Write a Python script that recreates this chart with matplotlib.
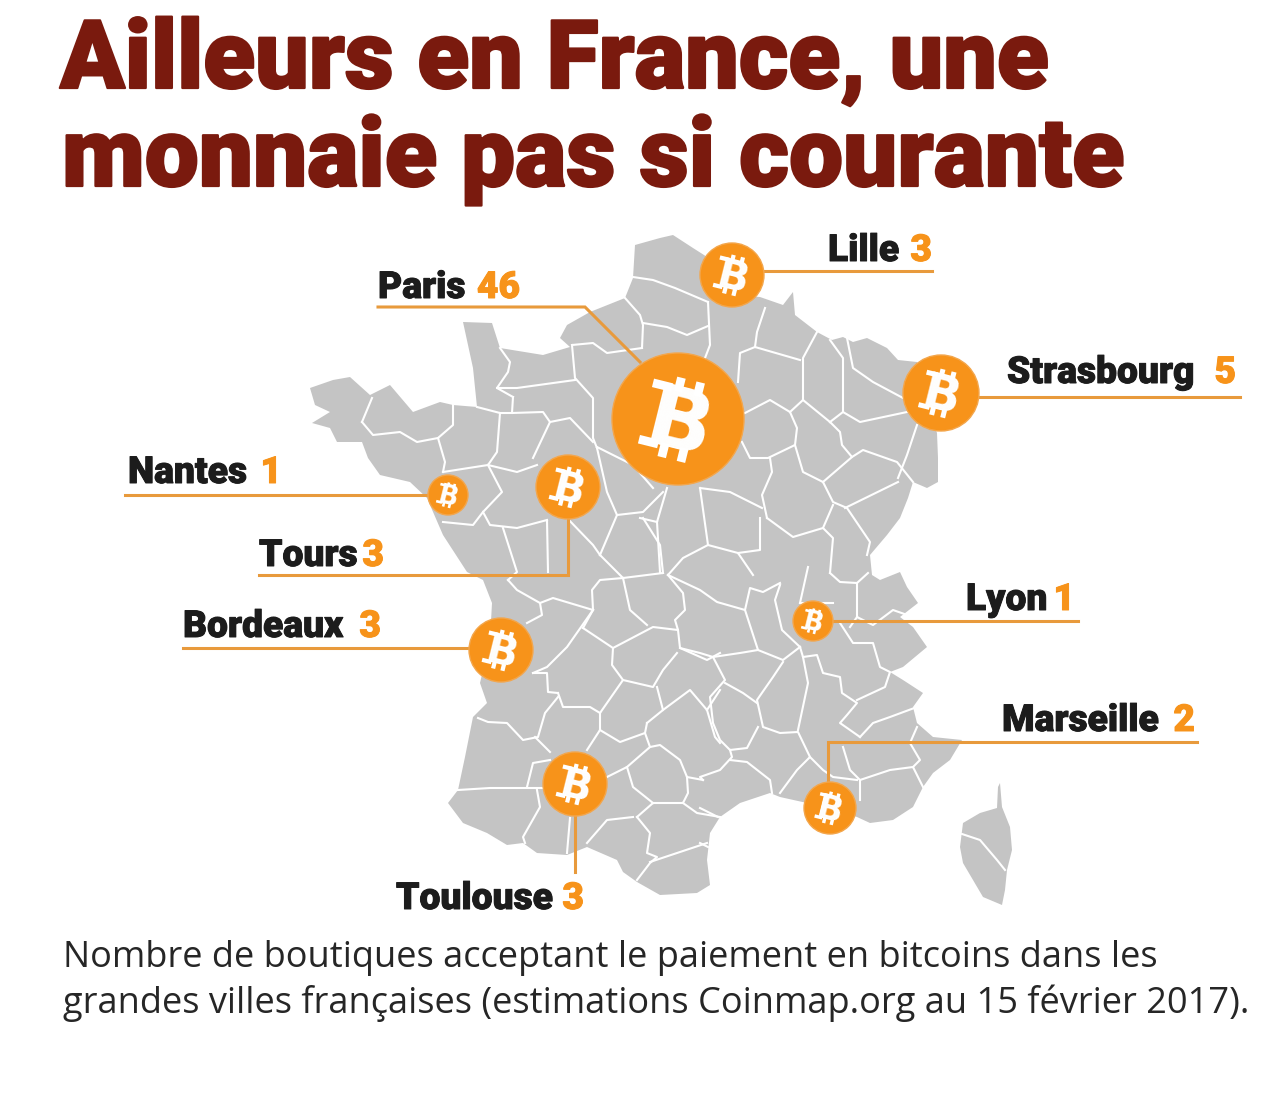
#!/usr/bin/env python3

import numpy as np
import matplotlib
matplotlib.use('Agg')
import matplotlib.pyplot as plt
import matplotlib.patheffects as pe
from matplotlib.patches import Circle, Polygon

plt.rcParams['font.family'] = ['Roboto', 'DejaVu Sans']

title_lines = ['Ailleurs en France, une', 'monnaie pas si courante']
caption_lines = ['Nombre de boutiques acceptant le paiement en bitcoins dans les',
                 'grandes villes françaises (estimations Coinmap.org au 15 février 2017).']

cities = ['Paris', 'Lille', 'Strasbourg', 'Nantes', 'Tours', 'Bordeaux', 'Lyon', 'Marseille', 'Toulouse']
shops = [46, 3, 5, 1, 3, 3, 1, 2, 3]

# where the cities sit on the map, in picture pixels
city_x = [678, 732, 941, 448, 568, 501, 813, 830, 575]
city_y = [419, 275, 393, 495, 487, 650, 621, 808, 784]

france = [(673, 235), (693, 248), (715, 262), (735, 295), (760, 297), (783, 305), (793, 292), (795, 315),
          (817, 332), (832, 340), (843, 337), (853, 342), (867, 338), (887, 348), (898, 360), (917, 362),
          (925, 400), (937, 433), (938, 458), (938, 482), (927, 488), (913, 482), (908, 498), (900, 518),
          (887, 535), (870, 555), (872, 575), (880, 580), (900, 572), (907, 587), (918, 603), (900, 617),
          (913, 627), (927, 647), (903, 667), (890, 672), (903, 680), (923, 693), (913, 707), (917, 723),
          (933, 737), (962, 740), (950, 760), (933, 773), (923, 787), (913, 807), (893, 820), (870, 823),
          (857, 817), (830, 808), (807, 803), (780, 797), (770, 793), (740, 803), (720, 817), (710, 833),
          (707, 860), (710, 885), (697, 893), (660, 895), (637, 882), (623, 872), (617, 860), (587, 847),
          (567, 855), (537, 853), (523, 843), (507, 845), (487, 833), (463, 823), (448, 803), (458, 790),
          (465, 757), (473, 717), (487, 703), (480, 683), (490, 640), (492, 603), (483, 580), (467, 572),
          (443, 535), (427, 498), (410, 482), (380, 475), (368, 458), (362, 442), (337, 442), (330, 428),
          (312, 423), (330, 412), (315, 405), (310, 388), (333, 380), (350, 377), (370, 395), (390, 385),
          (413, 412), (440, 402), (453, 405), (477, 407), (473, 368), (463, 322), (492, 323), (500, 348),
          (543, 355), (570, 347), (560, 338), (567, 325), (590, 312), (625, 298), (633, 278), (635, 245),
          (660, 238)]
corsica = [(1000, 783), (1002, 807), (1010, 827), (1012, 850), (1007, 870), (1005, 890), (1002, 905), (983, 897),
           (973, 880), (963, 863), (960, 847), (963, 823), (980, 813), (997, 808), (998, 787)]
borders = [
    [(625, 298), (640, 315), (643, 325), (642, 348)], [(633, 277), (653, 280), (675, 288), (708, 302)],
    [(643, 323), (667, 327), (687, 335), (708, 326)], [(572, 345), (593, 343), (607, 353), (642, 348)],
    [(572, 345), (575, 378), (593, 398), (593, 438), (597, 448)], [(500, 348), (510, 362), (508, 372), (497, 388), (513, 397)],
    [(497, 388), (517, 388), (575, 380)], [(513, 397), (512, 413), (543, 412), (550, 422), (570, 418), (593, 442)],
    [(477, 407), (500, 413), (512, 413)], [(453, 405), (453, 425), (438, 438), (445, 462), (443, 472)],
    [(362, 422), (373, 435), (400, 432), (417, 442), (438, 438)], [(362, 422), (372, 398)],
    [(500, 413), (497, 452), (488, 465), (443, 472)], [(488, 465), (517, 472), (537, 465)], [(550, 422), (533, 458)],
    [(488, 465), (502, 492), (483, 512), (490, 525), (517, 528), (547, 520)], [(443, 522), (473, 525), (483, 512)],
    [(503, 528), (517, 572), (508, 580)], [(547, 520), (548, 572)], [(597, 448), (607, 492), (617, 515), (600, 555)],
    [(597, 447), (633, 465), (653, 488)], [(617, 515), (643, 512), (663, 492)], [(643, 518), (660, 545), (663, 573)],
    [(600, 555), (617, 572), (623, 578)], [(567, 518), (593, 545), (600, 555)],
    [(708, 302), (710, 345), (705, 358)], [(765, 308), (757, 332), (755, 347)], [(755, 347), (740, 353), (738, 382)],
    [(755, 347), (800, 360)], [(817, 332), (803, 358), (803, 400), (790, 412)], [(803, 400), (830, 422)],
    [(830, 340), (843, 358), (843, 412)], [(830, 422), (843, 412), (860, 422), (907, 412)],
    [(847, 338), (853, 368), (873, 382), (903, 398)],
    [(745, 413), (770, 400), (790, 412), (797, 428), (795, 445), (768, 458), (750, 458), (742, 442)],
    [(795, 445), (803, 472), (823, 482)], [(830, 422), (840, 432), (842, 445), (852, 457), (823, 482)],
    [(852, 457), (863, 450), (897, 462), (913, 482)], [(917, 425), (907, 455), (898, 478)], [(898, 482), (845, 508)],
    [(823, 482), (833, 502), (847, 508), (870, 542), (867, 555)], [(770, 458), (772, 472), (762, 495), (767, 518)],
    [(833, 505), (823, 528), (833, 538), (830, 573)], [(767, 518), (793, 537), (823, 528)],
    [(700, 488), (730, 492), (762, 508)], [(700, 488), (708, 545), (683, 558), (668, 575)],
    [(708, 545), (738, 553), (753, 575)], [(760, 518), (760, 550), (738, 553)], [(667, 488), (657, 522), (660, 572)],
    [(640, 518), (657, 522)],
    [(508, 580), (517, 590), (540, 603), (542, 615), (527, 623)], [(540, 603), (553, 598), (593, 610)],
    [(593, 610), (592, 590), (600, 580), (623, 578), (663, 573)], [(593, 610), (567, 647), (547, 667), (533, 673)],
    [(533, 673), (547, 673), (548, 692), (558, 693)], [(558, 693), (563, 707), (590, 707), (600, 713)],
    [(558, 697), (545, 713), (538, 737), (523, 740), (507, 723), (488, 722), (478, 718)], [(535, 737), (550, 752)],
    [(550, 760), (533, 763), (527, 787)], [(458, 790), (490, 788), (542, 788)],
    [(537, 790), (540, 807), (523, 837), (525, 843)], [(570, 818), (567, 853)],
    [(583, 628), (613, 648), (612, 665), (623, 680), (600, 713), (600, 730), (587, 750)], [(583, 628), (593, 610)],
    [(623, 578), (630, 610), (647, 625)],
    [(613, 648), (653, 627), (678, 630), (675, 620), (685, 610), (683, 593), (668, 575)],
    [(678, 630), (680, 648), (707, 660), (720, 653)], [(623, 680), (653, 687), (663, 670), (677, 653)],
    [(657, 687), (663, 710), (647, 723)], [(663, 710), (690, 690), (707, 710), (715, 737), (720, 743)],
    [(707, 710), (720, 690)], [(600, 730), (620, 742), (645, 733), (647, 723)], [(645, 733), (650, 747)],
    [(607, 777), (627, 767), (650, 747), (660, 745), (680, 760), (687, 777), (703, 780)],
    [(627, 767), (633, 787), (653, 803)], [(687, 777), (688, 793), (683, 803), (653, 803), (637, 817)],
    [(683, 803), (697, 813), (720, 817)], [(633, 817), (607, 820), (587, 843)],
    [(637, 817), (650, 833), (647, 853), (657, 857), (650, 863), (637, 880)], [(650, 862), (707, 843)],
    [(668, 575), (700, 590), (717, 602), (745, 610), (750, 588), (763, 592), (780, 583)],
    [(745, 610), (758, 650), (740, 653), (713, 657), (700, 653), (680, 648)], [(808, 567), (800, 603)],
    [(780, 585), (775, 600), (782, 630), (800, 647)], [(758, 650), (783, 660), (800, 647)],
    [(800, 647), (803, 657), (808, 683), (798, 730)],
    [(803, 657), (817, 655), (823, 673), (840, 677), (842, 693), (857, 703), (847, 715), (840, 723), (860, 737)],
    [(840, 623), (853, 643), (873, 643), (880, 667), (890, 672), (885, 687), (857, 700)],
    [(830, 573), (840, 582), (857, 583), (868, 573)], [(857, 583), (857, 617), (873, 625), (893, 610), (913, 617)],
    [(800, 603), (833, 603)], [(850, 627), (857, 617)],
    [(783, 662), (773, 677), (757, 700), (763, 727), (780, 733), (798, 732), (810, 757), (797, 770), (780, 793)],
    [(713, 657), (725, 680), (710, 697), (713, 723), (720, 740), (730, 750), (747, 748), (758, 727)],
    [(725, 683), (743, 693), (757, 703)], [(730, 750), (732, 757), (720, 770), (700, 777), (703, 780)],
    [(730, 760), (747, 762), (770, 780), (772, 793)], [(700, 808), (718, 817)], [(700, 843), (708, 847)],
    [(810, 757), (823, 770), (833, 777), (857, 780)],
    [(843, 747), (850, 770), (860, 780), (890, 770), (913, 767), (923, 787)],
    [(913, 767), (920, 760), (910, 743), (917, 727)], [(860, 737), (873, 723), (890, 717), (917, 707)],
    [(860, 780), (860, 800)],
]
corsica_border = [(962, 834), (980, 840), (997, 860), (1005, 870)]

# layout of the call-outs: left end of the name, right end of the number, baseline
label_left = [378, 828, 1007, 128, 259, 183, 966, 1002, 396]
label_right = [520, 932, 1236, 282, 384, 381, 1075, 1195, 584]
label_base = [298, 261, 383, 483, 566, 637, 610, 731, 909]
leaders = [
    [(378, 307), (585, 307), (640, 362)], [(764, 271), (932, 271)], [(978, 397), (1240, 397)],
    [(125, 495), (430, 495)], [(259, 575), (568, 575), (568, 517)], [(183, 648), (472, 648)],
    [(833, 621), (1078, 621)], [(828, 785), (828, 742), (1197, 742)], [(575, 815), (575, 872)],
]
radius_by_count = {46: 66, 5: 38, 3: 32, 2: 26, 1: 20}

ORANGE = '#f7931a'
GREY = '#c4c4c4'
INK = '#1c1c1c'
RED = '#7a1a0e'
LINE = '#e89a3c'


def tilted(x, y, u, v):
    # letter frame to picture: the B leans 14 degrees to the right
    angle = np.radians(14)
    return x + u * np.cos(angle) - v * np.sin(angle), y + u * np.sin(angle) + v * np.cos(angle)


def draw_coin(ax, x, y, r):
    ax.add_patch(Circle((x, y), r, facecolor=ORANGE, edgecolor='#f3a64c', linewidth=1, zorder=5))
    strokes = [(-0.1, -0.62, -0.1, -0.4), (0.2, -0.62, 0.2, -0.4), (-0.1, 0.4, -0.1, 0.62), (0.2, 0.4, 0.2, 0.62),
               (-0.5, -0.44, -0.2, -0.44), (-0.5, 0.44, -0.2, 0.44)]
    for u0, v0, u1, v1 in strokes:
        p0 = tilted(x, y, u0 * r, v0 * r)
        p1 = tilted(x, y, u1 * r, v1 * r)
        ax.plot([p0[0], p1[0]], [p0[1], p1[1]], color='white', lw=0.095 * r, solid_capstyle='butt', zorder=6)
    bx, by = tilted(x, y, 0.03 * r, 0.47 * r)
    ax.text(bx, by, 'B', color='white', fontsize=0.93 * r, fontweight='bold', family='DejaVu Sans',
            rotation=-14, rotation_mode='anchor', ha='center', va='baseline', zorder=7)


fig, ax = plt.subplots(figsize=(12.8, 10.95), dpi=100)
fig.subplots_adjust(left=0, right=1, bottom=0, top=1)
ax.set_xlim(0, 1280)
ax.set_ylim(1095, 0)
ax.axis('off')

ax.add_patch(Polygon(france, closed=True, facecolor=GREY, edgecolor='none', zorder=1))
ax.add_patch(Polygon(corsica, closed=True, facecolor=GREY, edgecolor='none', zorder=1))
for line in borders + [corsica_border]:
    xs, ys = zip(*line)
    ax.plot(xs, ys, color='white', lw=1.5, solid_joinstyle='round', zorder=2)

for line in leaders:
    xs, ys = zip(*line)
    ax.plot(xs, ys, color=LINE, lw=2.2, solid_joinstyle='miter', zorder=4)

heavy = [pe.withStroke(linewidth=0.7, foreground=INK)]
heavy_orange = [pe.withStroke(linewidth=0.7, foreground=ORANGE)]
for i, city in enumerate(cities):
    draw_coin(ax, city_x[i], city_y[i], radius_by_count[shops[i]])
    ax.text(label_left[i], label_base[i], city, color=INK, fontsize=26.8, fontweight='black', va='baseline', ha='left',
            path_effects=heavy)
    ax.text(label_right[i], label_base[i], str(shops[i]), color=ORANGE, fontsize=26.8, fontweight='black',
            va='baseline', ha='right', path_effects=heavy_orange)

title_heavy = [pe.withStroke(linewidth=1.6, foreground=RED)]
ax.text(60, 88, title_lines[0], color=RED, fontsize=68.5, fontweight='black', va='baseline', ha='left',
        path_effects=title_heavy)
ax.text(62, 186, title_lines[1], color=RED, fontsize=69.2, fontweight='black', va='baseline', ha='left',
        path_effects=title_heavy)

ax.text(63, 967, caption_lines[0], color='#262626', fontsize=26, family='Open Sans', va='baseline', ha='left')
ax.text(63, 1013, caption_lines[1], color='#262626', fontsize=26, family='Open Sans', va='baseline', ha='left')

fig.savefig('out.png', dpi=100, facecolor='white')
